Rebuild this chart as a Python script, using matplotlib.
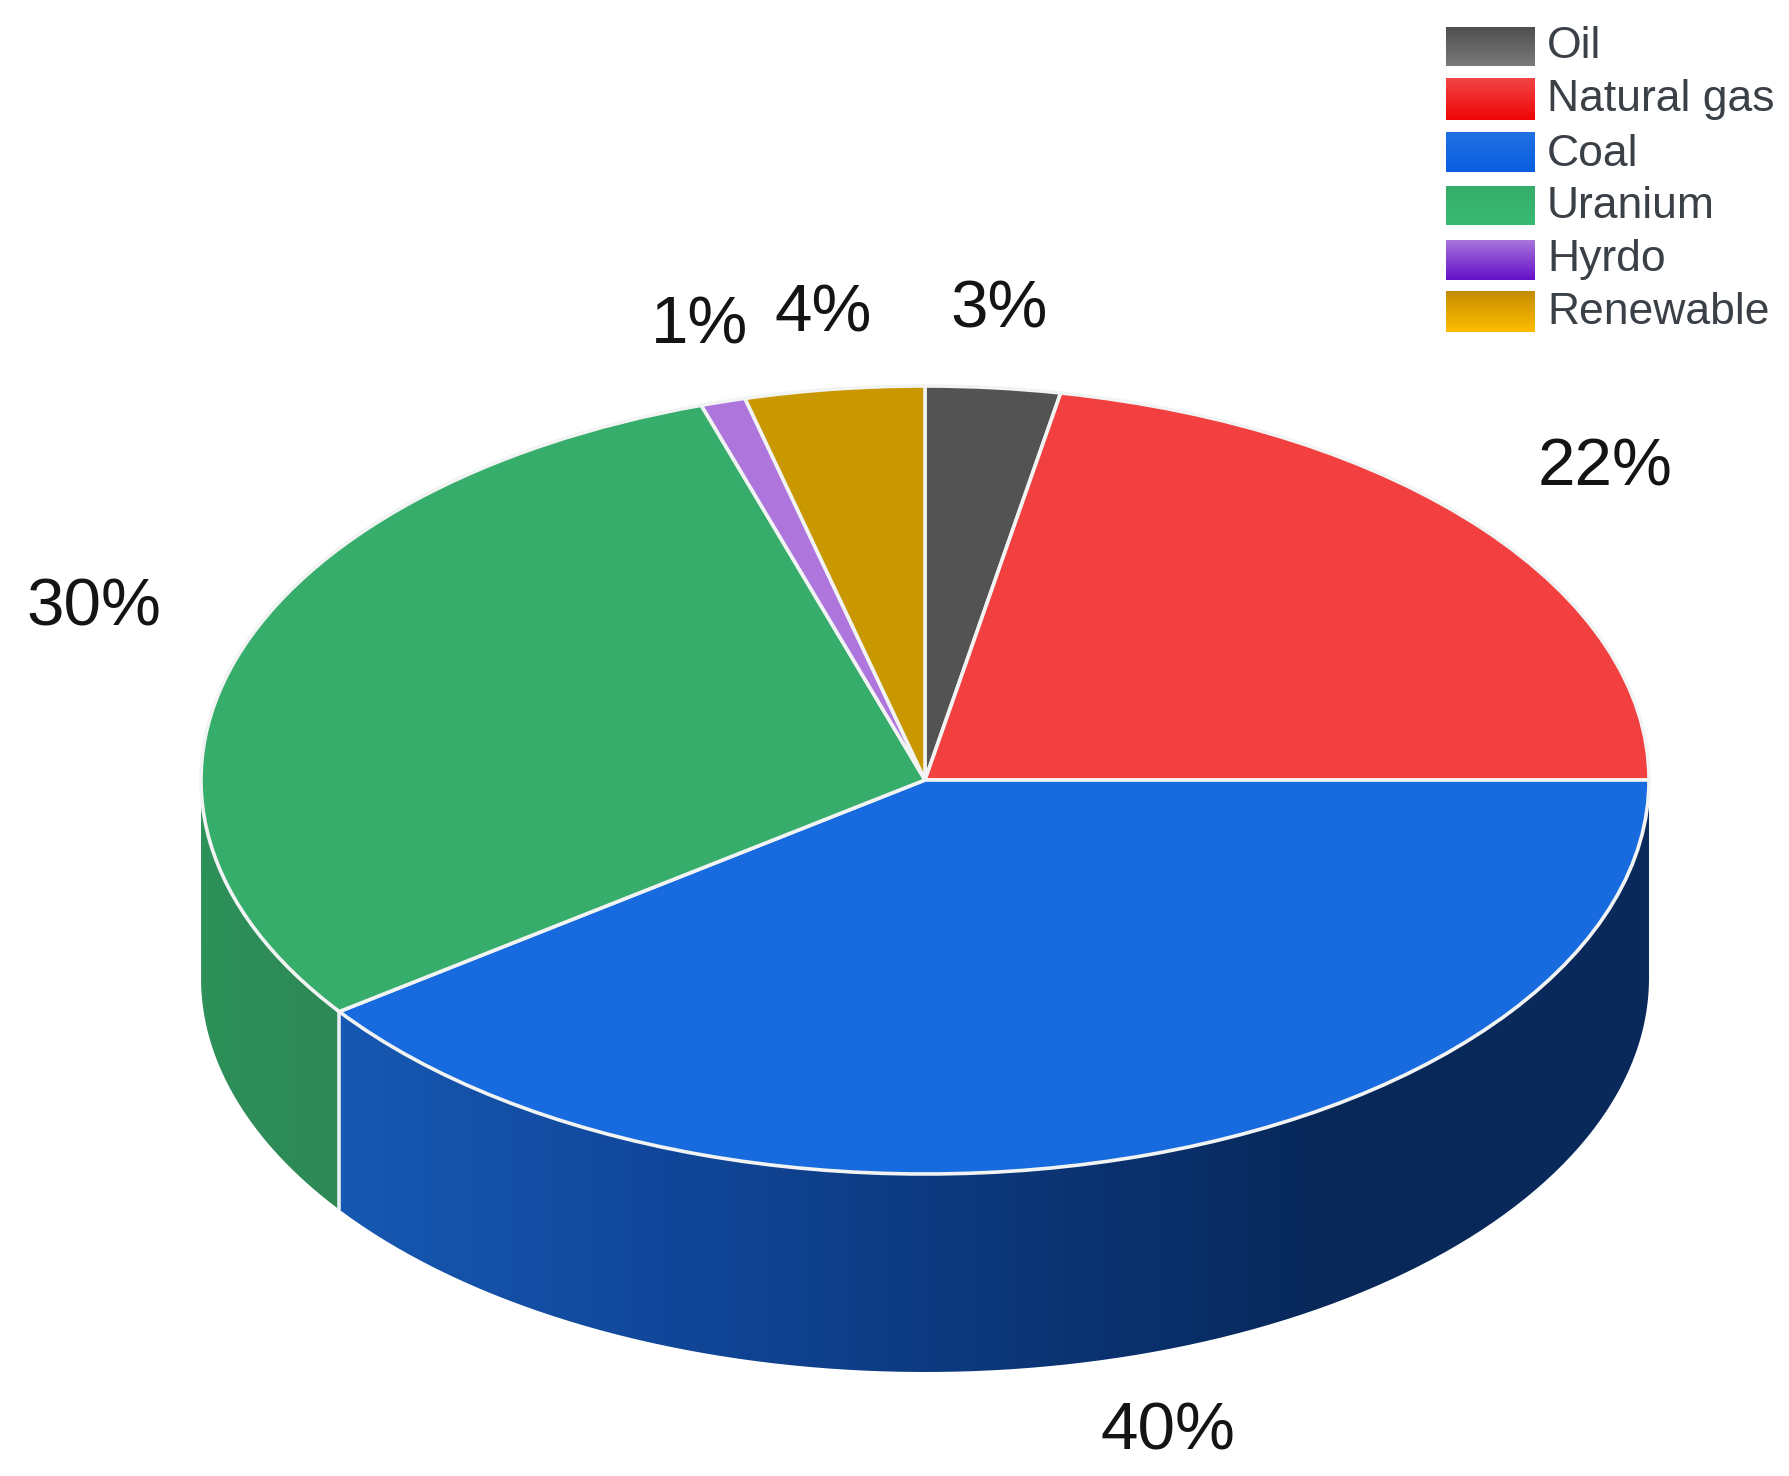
import matplotlib
matplotlib.use('Agg')
import matplotlib.pyplot as plt
import numpy as np
from matplotlib.colors import LinearSegmentedColormap
from matplotlib.patches import PathPatch
from matplotlib.path import Path

plt.rcParams['font.family'] = ['Liberation Sans', 'DejaVu Sans']

categories = ['Oil', 'Natural gas', 'Coal', 'Uranium', 'Hyrdo', 'Renewable']
shares = [3, 22, 40, 30, 1, 4]
top_colors = ['#535353', '#F24040', '#176BDF', '#37AD6C', '#AE75DD', '#C99700']
legend_tops = ['#4F4F4F', '#F24444', '#2070E2', '#35AD6A', '#A873DA', '#C48D00']
legend_bottoms = ['#7A7A7A', '#EE0606', '#0A5FE0', '#38BA72', '#6410C8', '#FFBC00']

# side wall shading, left to right along x
wall_colors = {
    'Coal': ['#1658B2', '#11479A', '#0C377A', '#08285A', '#0A2A5C'],
    'Uranium': ['#2C9159', '#2E8C58', '#2D8955'],
}

# label centres in reference pixels
label_pos = [(999, 311), (1605, 468), (1168, 1432), (94, 609), (700, 327), (823, 314)]

W, H = 1790, 1476
CX, CY = 925, 780
RX, RY = 724, 394
DEPTH = 198

fig = plt.figure(figsize=(W / 100, H / 100), dpi=100, facecolor='white')
ax = fig.add_axes([0, 0, 1, 1])


def px(x, y):
    """Reference pixel to data coordinates of the unit pie."""
    return (x - CX) / RX, (CY - y) / RY


# side walls: only the front half of the disc shows
depth = DEPTH / RY
edges = np.cumsum([0] + shares) / sum(shares) * 360
for name, start, end in zip(categories, edges[:-1], edges[1:]):
    lo, hi = max(start, 90), min(end, 270)
    if lo >= hi:
        continue
    theta = np.radians(np.linspace(lo, hi, 200))
    x, y = np.sin(theta), np.cos(theta)
    verts = np.r_[np.c_[x, y], np.c_[x, y - depth][::-1], [[x[0], y[0]]]]
    xmin, xmax = x.min(), x.max()
    cmap = LinearSegmentedColormap.from_list(name, wall_colors[name])
    img = ax.imshow(np.linspace(0, 1, 256)[None, :], cmap=cmap, aspect='auto',
                    extent=(xmin, xmax, verts[:, 1].min(), verts[:, 1].max()),
                    zorder=0.5)
    clip = PathPatch(Path(verts), facecolor='none', edgecolor='none',
                     transform=ax.transData)
    ax.add_patch(clip)
    img.set_clip_path(clip)

    # white seam where a wall meets the next one
    if end < 270:
        ax.plot([x[-1], x[-1]], [y[-1], y[-1] - depth], color='#E8EEF2', lw=2.6,
                zorder=0.8, solid_capstyle='butt')

ax.pie(shares, colors=top_colors, startangle=90, counterclock=False, radius=1,
       wedgeprops={'edgecolor': '#F2F4F4', 'linewidth': 2.6, 'zorder': 2})

for share, (lx, ly) in zip(shares, label_pos):
    ax.text(*px(lx, ly), f'{share}%', fontsize=48.5, color='#141414',
            ha='center', va='center', zorder=3)

# legend with gradient swatches
swatch_rows = [(27, 66), (78, 120), (132, 172), (186, 225), (240, 280), (291, 332)]
text_y = [46, 100, 154, 206, 260, 312]
for i, name in enumerate(categories):
    y0, y1 = swatch_rows[i]
    cmap = LinearSegmentedColormap.from_list(f'leg{i}', [legend_tops[i], legend_bottoms[i]])
    x_left, y_top = px(1446, y0)
    x_right, y_bot = px(1535, y1)
    ax.imshow(np.linspace(0, 1, 64)[:, None], cmap=cmap, aspect='auto',
              extent=(x_left, x_right, y_bot, y_top), zorder=3)
    ax.text(*px(1547, text_y[i]), name, fontsize=32, color='#3A4046',
            ha='left', va='center', zorder=3)

ax.set_aspect('auto')
ax.set_xlim(-CX / RX, (W - CX) / RX)
ax.set_ylim((CY - H) / RY, CY / RY)
ax.axis('off')

fig.savefig('out.png', dpi=100)
